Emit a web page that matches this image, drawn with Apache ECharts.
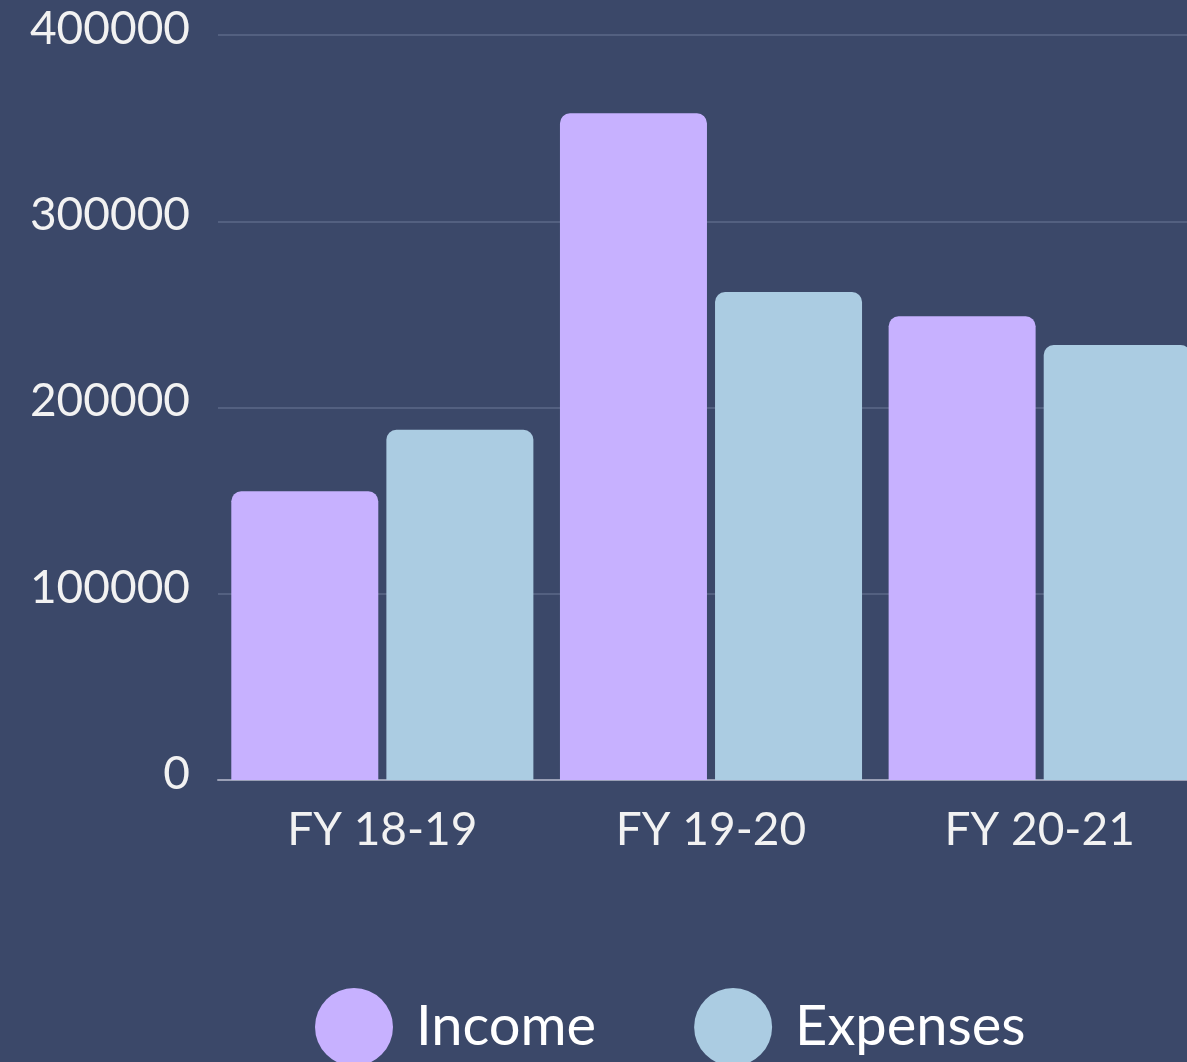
<!DOCTYPE html>
<html>
<head>
<meta charset="utf-8">
<script src="https://cdn.jsdelivr.net/npm/echarts@6/dist/echarts.min.js"></script>
<style>
  html, body { margin: 0; padding: 0; background: #3b4869; }
  #chart { width: 1187px; height: 1062px; }
</style>
</head>
<body>
<div id="chart"></div>
<script>
  var categories = ['FY 18-19', 'FY 19-20', 'FY 20-21']
  var income = [155000, 358000, 249000]
  var expenses = [188000, 262000, 233500]
  var yTicks = [0, 100000, 200000, 300000, 400000]

  var chart = echarts.init(document.getElementById('chart'))
  var option = {
    backgroundColor: '#3b4869',
    textStyle: { fontFamily: 'Lato' },
    legend: {
      left: 310,
      top: 983,
      icon: 'circle',
      itemWidth: 78,
      itemHeight: 78,
      itemGap: 98,
      data: ['Income', 'Expenses'],
      textStyle: {
        color: '#ffffff',
        fontSize: 56,
        padding: [0, 0, 0, 18]
      }
    },
    grid: {
      left: 218,
      width: 986,
      top: 35,
      bottom: 282,
      containLabel: false,
      outerBoundsMode: 'none'
    },
    xAxis: {
      type: 'category',
      data: categories,
      axisTick: { show: false },
      axisLine: { lineStyle: { color: '#9aa0b6', width: 2 } },
      axisLabel: {
        color: '#f2f2f2',
        fontSize: 46,
        margin: 27
      }
    },
    yAxis: {
      type: 'value',
      min: yTicks[0],
      max: yTicks[yTicks.length - 1],
      interval: 100000,
      axisLine: { show: false },
      axisTick: { show: false },
      splitLine: { lineStyle: { color: '#5c6989', width: 1.5 } },
      axisLabel: {
        color: '#f2f2f2',
        fontSize: 46,
        margin: 28,
        verticalAlign: 'bottom',
        lineHeight: 12,
        formatter: function (v) { return String(v) }
      }
    },
    series: [
      {
        name: 'Income',
        type: 'bar',
        data: income,
        barWidth: 147,
        barGap: '5.5%',
        itemStyle: { color: '#c7b1ff', borderRadius: [10, 10, 0, 0] }
      },
      {
        name: 'Expenses',
        type: 'bar',
        data: expenses,
        barWidth: 147,
        itemStyle: { color: '#abcce2', borderRadius: [10, 10, 0, 0] }
      }
    ]
  }
  chart.setOption(option)
</script>
</body>
</html>
